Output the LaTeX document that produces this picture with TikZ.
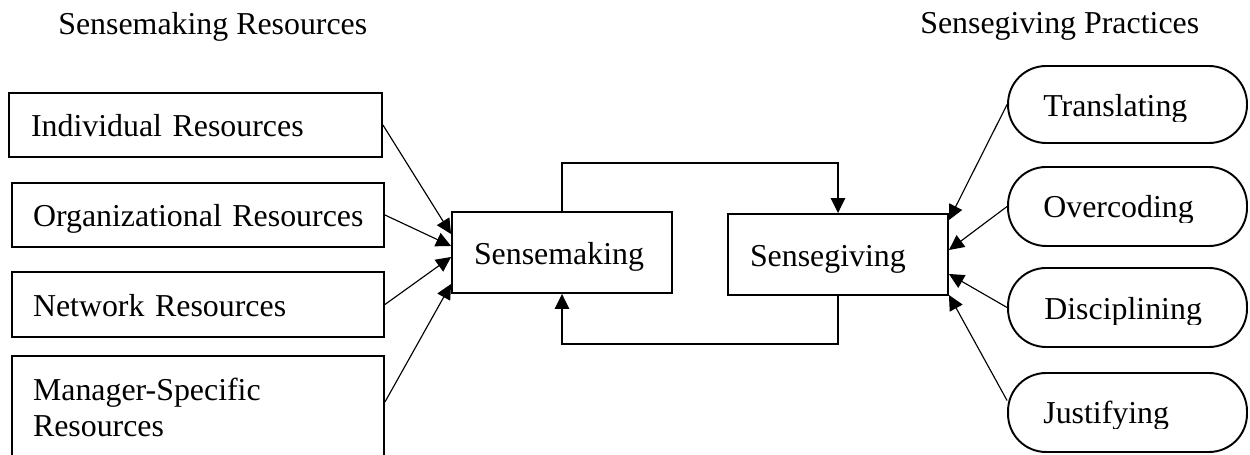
\documentclass[tikz,border=0pt]{standalone}
\usepackage{fontspec}
\setmainfont{Liberation Serif}
\usetikzlibrary{arrows.meta,calc}
\begin{document}
\begin{tikzpicture}[x=0.02cm,y=-0.02cm,
  every node/.style={font=\fontsize{18.14pt}{21pt}\selectfont},
  rbox/.style={draw, line width=1.1pt, inner sep=0pt, align=left},
  obox/.style={draw, line width=1.1pt, rounded corners=0.76cm, minimum width=4.78cm, inner sep=0pt},
  txt/.style={inner sep=0pt, anchor=base west},
  arr/.style={line width=0.65pt, -{Triangle[length=0.3cm,width=0.29cm]}},
]
\useasboundingbox (0,0) rectangle (1250,455);
\clip (0,0) rectangle (1250,455);

% headings
\node[txt] (hl) at (58,35) {Sensemaking Resources};
\node[txt] (hr) at (920,34) {Sensegiving Practices};

% left resource boxes
\node[rbox, text width=7.46cm, text height=0.88cm, text depth=0.40cm] (ir) at (195.5,125) {\hspace*{0.44cm}Individual Resources};
\node[rbox, text width=7.44cm, text height=0.88cm, text depth=0.40cm] (ob) at (198,215) {\hspace*{0.42cm}Organizational Resources};
\node[rbox, text width=7.44cm, text height=0.90cm, text depth=0.40cm] (nr) at (198,304.5) {\hspace*{0.42cm}Network Resources};
\node[rbox, text width=7.44cm, text height=0.88cm, text depth=1.40cm] (ms) at (198,413) {\hspace*{0.42cm}Manager-Specific\\\hspace*{0.42cm}Resources};

% centre boxes
\node[rbox, text width=4.4cm, text height=1.06cm, text depth=0.56cm] (sm) at (562,252.5) {\hspace*{0.44cm}Sensemaking};
\node[rbox, text width=4.4cm, text height=1.06cm, text depth=0.56cm] (sg) at (838,254.5) {\hspace*{0.44cm}Sensegiving};

% right practice boxes
\node[obox, minimum height=1.54cm] (tr) at (1127.5,104.5) {};
\node[obox, minimum height=1.58cm] (oc) at (1127.5,206.5) {};
\node[obox, minimum height=1.58cm] (dc) at (1127.5,307.5) {};
\node[obox, minimum height=1.58cm] (js) at (1127.5,412.5) {};

\begin{scope}
  \clip (1010,60) rectangle (1245,122);
  \node[txt] (trt) at (1043,117) {Translating};
\end{scope}
\begin{scope}
  \clip (1010,160) rectangle (1245,223);
  \node[txt] (oct) at (1043,218) {Overcoding};
\end{scope}
\begin{scope}
  \clip (1010,260) rectangle (1245,325);
  \node[txt] (dct) at (1044,320) {Disciplining};
\end{scope}
\begin{scope}
  \clip (1010,365) rectangle (1245,429);
  \node[txt] (jst) at (1043,423) {Justifying};
\end{scope}

% arrows into Sensemaking
\draw[arr] (ir.east) -- ([yshift=0.37cm]sm.west);
\draw[arr] (ob.east) -- ([yshift=0.13cm]sm.west);
\draw[arr] (nr.east) -- ([yshift=-0.09cm]sm.west);
\draw[arr] ([yshift=-0.94cm]ms.north east) -- ([yshift=-0.63cm]sm.west);

% arrows into Sensegiving
\draw[arr] (tr.west) -- ([yshift=0.69cm]sg.east);
\draw[arr] (oc.west) -- ([yshift=0.09cm]sg.east);
\draw[arr] (dc.west) -- ([yshift=-0.39cm]sg.east);
\draw[arr] ([yshift=0.24cm]js.west) -- ([yshift=-0.81cm]sg.east);

% feedback loop
\draw[arr] (sm.north) -- ++(0,-48) -| (sg.north);
\draw[arr] (sg.south) -- ++(0,48) -| (sm.south);
\end{tikzpicture}
\end{document}
